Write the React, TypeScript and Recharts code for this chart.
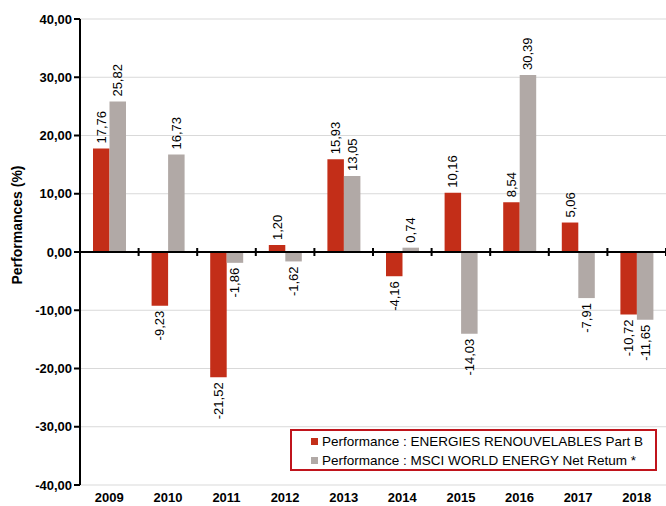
import { BarChart, Bar, XAxis, YAxis, CartesianGrid, ReferenceLine, LabelList, Legend, Label } from 'recharts';

const years = ['2009', '2010', '2011', '2012', '2013', '2014', '2015', '2016', '2017', '2018'];
const fundPerf = [17.76, -9.23, -21.52, 1.2, 15.93, -4.16, 10.16, 8.54, 5.06, -10.72];
const indexPerf = [25.82, 16.73, -1.86, -1.62, 13.05, 0.74, -14.03, 30.39, -7.91, -11.65];
const yTicks = [-40, -30, -20, -10, 0, 10, 20, 30, 40];

const FUND_NAME = 'Performance : ENERGIES RENOUVELABLES Part B';
const INDEX_NAME = 'Performance : MSCI WORLD ENERGY Net Retum *';

const RED = '#C32E18';
const GREY = '#B1A9A6';
const FONT = '"Liberation Sans", Arial, sans-serif';

const data = years.map((year, i) => ({ year, fund: fundPerf[i], index: indexPerf[i] }));

const fmt = (v: number) => v.toFixed(2).replace('.', ',');

const BarLabel = (props: any) => {
  const { x, y, width, height, value } = props;
  const cx = x + width / 2;
  const top = Math.min(y, y + height);
  const bottom = Math.max(y, y + height);
  const pos = value >= 0;
  const ty = pos ? top - 5 : bottom + 5;
  return (
    <text
      x={cx}
      y={ty}
      transform={`rotate(-90 ${cx} ${ty})`}
      textAnchor={pos ? 'start' : 'end'}
      dominantBaseline="central"
      fontSize={13}
      fontFamily={FONT}
      fill="#000"
    >
      {fmt(value)}
    </text>
  );
};

// zero line with small ticks between the categories
const ZeroLine = (props: any) => {
  const { x1, x2, y1 } = props;
  const step = (x2 - x1) / years.length;
  return (
    <g>
      <line x1={x1} x2={x2} y1={y1} y2={y1} stroke="#000" strokeWidth={2} />
      {years.map((_, i) => (
        <line key={i} x1={x1 + step * (i + 1)} x2={x1 + step * (i + 1)} y1={y1 - 4} y2={y1 + 4} stroke="#000" strokeWidth={2} />
      ))}
    </g>
  );
};

const LegendBox = () => (
  <div
    style={{
      width: 363,
      height: 37,
      border: '2px solid #C0141C',
      background: '#fff',
      fontFamily: FONT,
      fontSize: 13.5,
      color: '#000',
      boxSizing: 'content-box',
      paddingTop: 1,
    }}
  >
    {[
      { name: FUND_NAME, color: RED },
      { name: INDEX_NAME, color: GREY },
    ].map((e) => (
      <div key={e.name} style={{ display: 'flex', alignItems: 'center', height: 19, paddingLeft: 19, whiteSpace: 'nowrap' }}>
        <span style={{ display: 'inline-block', width: 7, height: 7, background: e.color, marginRight: 4 }} />
        <span>{e.name}</span>
      </div>
    ))}
  </div>
);

export default function App() {
  return (
    <div style={{ position: 'absolute', left: 0, top: 0, background: '#fff' }}>
      <BarChart
        width={666}
        height={506}
        data={data}
        margin={{ top: 19, right: 0, bottom: 0, left: 0 }}
        barGap={0}
        barSize={16.5}
      >
        <CartesianGrid vertical={false} stroke="#D9D9D9" strokeWidth={1} />
        <XAxis
          dataKey="year"
          axisLine={false}
          tickLine={false}
          height={21}
          tick={{ fontSize: 13, fontWeight: 'bold', fill: '#000', fontFamily: FONT }}
          tickMargin={2}
          interval={0}
        />
        <YAxis
          width={80}
          domain={[-40, 40]}
          ticks={yTicks}
          interval={0}
          tickFormatter={fmt}
          axisLine={{ stroke: '#000', strokeWidth: 2 }}
          tickLine={{ stroke: '#000', strokeWidth: 2 }}
          tickSize={6}
          tick={{ fontSize: 13, fontWeight: 'bold', fill: '#000', fontFamily: FONT }}
        >
          <Label
            content={({ viewBox }: any) => {
              const cy = viewBox.y + viewBox.height / 2 - 27;
              return (
                <text
                  x={17}
                  y={cy}
                  transform={`rotate(-90 17 ${cy})`}
                  textAnchor="middle"
                  dominantBaseline="central"
                  fontSize={14}
                  fontWeight="bold"
                  fontFamily={FONT}
                  fill="#000"
                >
                  Performances (%)
                </text>
              );
            }}
          />
        </YAxis>
        <Bar dataKey="fund" name={FUND_NAME} fill={RED} isAnimationActive={false}>
          <LabelList dataKey="fund" content={BarLabel} />
        </Bar>
        <Bar dataKey="index" name={INDEX_NAME} fill={GREY} isAnimationActive={false}>
          <LabelList dataKey="index" content={BarLabel} />
        </Bar>
        <ReferenceLine y={0} shape={ZeroLine} ifOverflow="extendDomain" />
        <Legend
          layout="vertical"
          align="center"
          verticalAlign="middle"
          content={LegendBox}
          wrapperStyle={{ position: 'absolute', left: 290, top: 429, width: 367, height: 42 }}
        />
      </BarChart>
    </div>
  );
}
